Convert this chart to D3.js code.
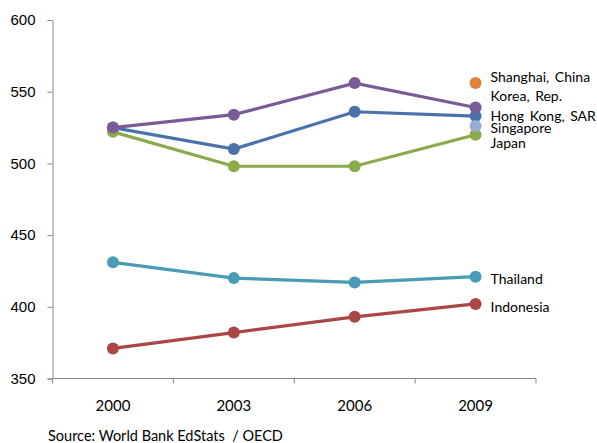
<!DOCTYPE html>
<html>
<head>
<meta charset="utf-8">
<script src="https://cdn.jsdelivr.net/npm/d3@7"></script>
<style>
  body { margin: 0; background: #fff; }
  svg { display: block; font-family: Lato, 'Open Sans', sans-serif; }
</style>
</head>
<body>
<div id="chart"></div>
<script>
const years = ['2000', '2003', '2006', '2009'];
const yTicks = [350, 400, 450, 500, 550, 600];

const hongKong = [525, 510, 536, 533];
const indonesia = [371, 382, 393, 402];
const japan = [522, 498, 498, 520];
const korea = [525, 534, 556, 539];
const shanghai = [null, null, null, 556];
const singapore = [null, null, null, 526];
const thailand = [431, 420, 417, 421];

const seriesNames = ['Hong Kong, SAR', 'Indonesia', 'Japan', 'Korea, Rep.', 'Shanghai, China', 'Singapore', 'Thailand'];
const seriesValues = [hongKong, indonesia, japan, korea, shanghai, singapore, thailand];

const source = 'Source: World Bank EdStats  / OECD';

// styling, kept apart from the data
const colors = ['#4A72AA', '#AA4643', '#8BAA4C', '#7A5B97', '#E0813A', '#96ACD4', '#4A9BB5'];
// vertical nudge of each end label so the crowded ones stay readable (px)
const labelNudge = [0, 3, 8, -11, -6, 2, 2];

const width = 597, height = 443;
const margin = { top: 20, right: 61, bottom: 64.5, left: 52.5 };

const svg = d3.select('#chart').append('svg')
    .attr('width', width)
    .attr('height', height);

const x = d3.scaleBand()
    .domain(years)
    .range([margin.left, width - margin.right]);

const y = d3.scaleLinear()
    .domain([350, 600])
    .range([height - margin.bottom, margin.top]);

const axisColor = '#868686';

// y axis
const yAxis = svg.append('g')
    .attr('transform', `translate(${margin.left},0)`)
    .call(d3.axisLeft(y).tickValues(yTicks).tickSize(5).tickPadding(12));
yAxis.select('.domain').attr('stroke', axisColor);
yAxis.selectAll('.tick line').attr('stroke', axisColor);
yAxis.selectAll('.tick text')
    .attr('fill', '#000')
    .style('font-size', '15px');

// x axis: tick marks on band edges, labels centred
const xAxisG = svg.append('g')
    .attr('transform', `translate(0,${y(350)})`);
xAxisG.append('line')
    .attr('x1', margin.left).attr('x2', width - margin.right)
    .attr('stroke', axisColor);
const edges = years.map(d => x(d)).concat([x(years[years.length - 1]) + x.bandwidth()]);
xAxisG.selectAll('.edge').data(edges).join('line')
    .attr('class', 'edge')
    .attr('x1', d => d).attr('x2', d => d)
    .attr('y1', 0).attr('y2', 5)
    .attr('stroke', axisColor);
xAxisG.selectAll('.lab').data(years).join('text')
    .attr('class', 'lab')
    .attr('x', d => x(d) + x.bandwidth() / 2)
    .attr('y', 32)
    .attr('text-anchor', 'middle')
    .style('font-size', '15px')
    .text(d => d);

const cx = d => x(d) + x.bandwidth() / 2;

const line = d3.line()
    .defined(d => d.v != null)
    .x(d => cx(d.year))
    .y(d => y(d.v));

const series = seriesNames.map((name, i) => ({
    name,
    color: colors[i],
    nudge: labelNudge[i],
    points: years.map((year, j) => ({ year, v: seriesValues[i][j] }))
}));

const g = svg.append('g');
series.forEach(s => {
    const sg = g.append('g');
    sg.append('path')
        .datum(s.points)
        .attr('fill', 'none')
        .attr('stroke', s.color)
        .attr('stroke-width', 3.2)
        .attr('d', line);
    sg.selectAll('circle').data(s.points.filter(d => d.v != null)).join('circle')
        .attr('cx', d => cx(d.year))
        .attr('cy', d => y(d.v))
        .attr('r', 6)
        .attr('fill', s.color);
});

// end labels
series.forEach(s => {
    const last = s.points[s.points.length - 1];
    svg.append('text')
        .attr('x', cx(last.year) + 15)
        .attr('y', y(last.v) + s.nudge)
        .attr('dy', '0.35em')
        .style('font-size', '14px')
        .style('word-spacing', '2px')
        .attr('fill', '#000')
        .text(s.name);
});

svg.append('text')
    .attr('x', 48)
    .attr('y', 441)
    .style('font-size', '14.5px')
    .style('white-space', 'pre')
    .text(source);
</script>
</body>
</html>
